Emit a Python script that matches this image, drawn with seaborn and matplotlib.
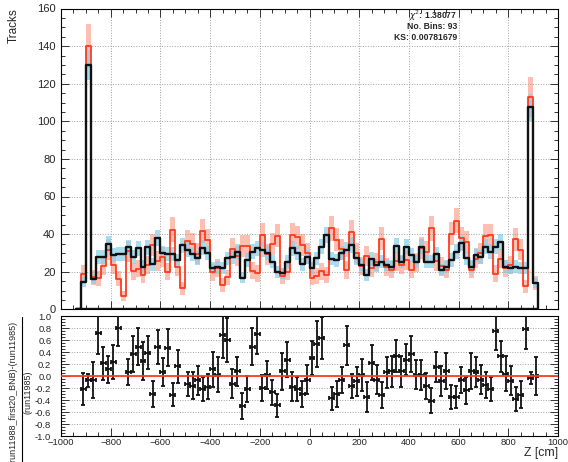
import numpy as np
import pandas as pd
import matplotlib
matplotlib.use("Agg")
import matplotlib.pyplot as plt
import seaborn as sns
from matplotlib.ticker import MultipleLocator, FormatStrFormatter
from matplotlib.lines import Line2D

# ---------------- data ----------------
z_low, z_high, z_width = -940, 920, 20
edges = np.arange(z_low, z_high + 1, z_width)
centers = edges[:-1] + z_width / 2

# run11988_first20_BNB (black)
tracks_11988 = [
    0, 14.7, 130, 16, 28, 28, 35, 29, 29.3, 29.4, 33, 27.7, 32.4, 22.7, 33, 24, 38,
    29.8, 29.4, 29.3, 26, 34, 31.6, 29.3, 27.5, 32.8, 30, 21.8, 22.3, 21.8, 27.1, 28,
    30.7, 16.8, 26.2, 30.7, 32.4, 31.6, 29.8, 25.4, 20, 19.1, 25.4, 32.4, 29.8, 24, 28,
    21.8, 27.1, 33.3, 39.5, 27, 26, 29.8, 31.6, 34.2, 27.1, 23.6, 18.3, 26.8, 23.6, 25.4,
    23.6, 22.7, 33.9, 25.4, 33.3, 28.9, 25.4, 33.3, 25.4, 25.4, 29.4, 20.9, 22.7, 26.2,
    30.7, 35.1, 27.1, 22.7, 28.9, 28, 33.3, 30.7, 33.3, 36, 22.7, 21.8, 22.7, 21.8, 21.8,
    107.4, 14.2]

# run11985 (red)
tracks_11985 = [
    0, 19, 140, 17, 16.4, 23.1, 31.6, 23.5, 16.3, 7.2, 30.8, 20.2, 21.7, 18.2, 23.7, 34.1,
    25.7, 27.9, 20, 42.4, 22.3, 11.2, 36.3, 34.9, 29.6, 41.5, 36.6, 19.6, 21.9, 13, 17,
    32.2, 28.4, 33.6, 33.6, 20.6, 19.1, 39.5, 29.2, 34.8, 39.2, 17.7, 20, 39.5, 38.2, 34.3,
    29.8, 16.8, 17.7, 20.3, 18, 43, 37, 32, 20.9, 41.2, 29.8, 23.1, 28.2, 22, 25.1, 37.4,
    22.3, 21, 25.5, 23.5, 26.2, 21.1, 24.9, 32.6, 30.6, 43, 25.6, 23, 21, 40.3, 47.2, 37.7,
    35.7, 21, 27, 29.8, 39.2, 39.3, 19, 27, 21.8, 23.7, 37.2, 31.6, 12.2, 113, 14.2]

# (run11988 - run11985) / run11985, nan = outside the frame
ratio = [
    np.nan, -0.22, -0.07, -0.06, 0.71, 0.21, 0.11, 0.23, 0.80, np.nan, 0.07, 0.37, 0.49,
    0.25, 0.39, -0.30, 0.48, 0.07, 0.47, -0.31, 0.16, np.nan, -0.13, -0.16, -0.07, -0.21,
    -0.18, 0.11, 0.02, 0.68, 0.60, -0.13, 0.08, -0.50, -0.22, 0.49, 0.70, -0.20, 0.02,
    -0.27, -0.49, 0.08, 0.27, -0.18, -0.22, -0.30, -0.06, 0.30, 0.53, 0.64, np.nan, -0.37,
    -0.30, -0.07, 0.51, -0.17, -0.09, 0.02, -0.35, 0.22, -0.06, -0.32, 0.06, 0.08, 0.33,
    0.08, 0.27, 0.37, 0.02, 0.02, -0.17, -0.41, 0.15, -0.09, 0.08, -0.35, -0.35, -0.07,
    -0.24, 0.08, 0.07, -0.06, -0.15, -0.22, 0.75, 0.33, 0.04, -0.08, -0.39, -0.31, 0.78,
    -0.04, 0.00]

ratio_err = [
    np.nan, 0.27, 0.11, 0.30, 0.34, 0.27, 0.23, 0.28, 0.30, np.nan, 0.22, 0.30, 0.31,
    0.31, 0.28, 0.21, 0.28, 0.23, 0.31, 0.19, 0.27, np.nan, 0.20, 0.23, 0.24, 0.20, 0.21,
    0.29, 0.29, 0.38, 0.36, 0.24, 0.24, 0.22, 0.22, 0.31, 0.33, 0.21, 0.23, 0.21, 0.19,
    0.31, 0.29, 0.24, 0.20, 0.21, 0.24, 0.29, 0.38, 0.35, np.nan, 0.19, 0.22, 0.22, 0.32,
    0.20, 0.24, 0.27, 0.25, 0.29, 0.24, 0.22, 0.26, 0.26, 0.27, 0.26, 0.26, 0.30, 0.24,
    0.25, 0.22, 0.21, 0.25, 0.25, 0.30, 0.20, 0.19, 0.22, 0.22, 0.30, 0.25, 0.24, 0.21,
    0.20, 0.31, 0.26, 0.29, 0.24, 0.20, 0.22, 0.33, 0.10, 0.32]

stats_lines = [r"$\chi^{2}$: 1.38077", "No. Bins: 93", "KS: 0.00781679"]

df = pd.DataFrame({'z': centers, 'black': tracks_11988, 'red': tracks_11985,
                   'ratio': ratio, 'ratio_err': ratio_err})
# band errors (scaled poisson, black sample is scaled)
df['black_err'] = 0.7 * np.sqrt(df['black'])
df['red_err'] = np.sqrt(df['red'])

# ---------------- style ----------------
sns.set_theme(style="white")
plt.rcParams['font.family'] = ['Liberation Sans', 'DejaVu Sans']
plt.rcParams['axes.linewidth'] = 0.8
plt.rcParams['axes.edgecolor'] = 'black'

RED = '#ff3b1c'
SALMON = '#fa8064'
BLUE = '#87ceeb'

fig = plt.figure(figsize=(5.68, 4.62), dpi=100)
W, H = 568, 462
ax1 = fig.add_axes([61 / W, (H - 309.3) / H, 497 / W, 300.8 / H])
ax2 = fig.add_axes([61 / W, 26 / H, 497 / W, 120 / H])

# ---------------- top panel ----------------
ax1.bar(df['z'], 2 * df['red_err'], bottom=df['red'] - df['red_err'], width=z_width,
        color=SALMON, alpha=0.5, linewidth=0, zorder=2)
ax1.bar(df['z'], 2 * df['black_err'], bottom=df['black'] - df['black_err'], width=z_width,
        color=BLUE, alpha=0.7, linewidth=0, zorder=3)
sns.histplot(data=df, x='z', weights='red', binwidth=z_width, binrange=(z_low, z_high),
             element="step", fill=True, facecolor="none", color=RED, linewidth=1.3,
             ax=ax1, zorder=4)
sns.histplot(data=df, x='z', weights='black', binwidth=z_width, binrange=(z_low, z_high),
             element="step", fill=True, facecolor="none", color='#111111', linewidth=1.7,
             ax=ax1, zorder=5)

ax1.set_xlim(-1000, 1000)
ax1.set_ylim(0, 160)
ax1.xaxis.set_major_locator(MultipleLocator(200))
ax1.xaxis.set_minor_locator(MultipleLocator(50))
ax1.yaxis.set_major_locator(MultipleLocator(20))
ax1.yaxis.set_minor_locator(MultipleLocator(5))
ax1.tick_params(which='both', direction='in', top=True, right=True, bottom=True, left=True,
                labelbottom=False, labelsize=8, pad=4, width=0.7, color='#333333')
ax1.tick_params(which='major', length=6)
ax1.tick_params(which='minor', length=3)
ax1.grid(True, which='major', ls=':', color='#a0a0a0', lw=0.7)
ax1.set_axisbelow(True)
ax1.set_xlabel('')
ax1.set_ylabel('Tracks', loc='top', fontsize=8.5)
ax1.yaxis.set_label_coords(-0.083, 1.0)

for i, line in enumerate(stats_lines):
    fig.text(457 / W, 1 - (15.5 + 11 * i) / H, line, ha='right', va='center',
             fontsize=6.2, fontweight='bold', zorder=10)

# ---------------- ratio panel ----------------
ax2.axhline(0, color=RED, lw=1.3, zorder=5)
ax2.errorbar(df['z'], df['ratio'], xerr=z_width / 2, yerr=df['ratio_err'], fmt='none',
             ecolor='#111111', elinewidth=1.3, capsize=1.7, capthick=1.3, zorder=4)
ax2.set_xlim(-1000, 1000)
ax2.set_ylim(-1, 1)
ax2.xaxis.set_major_locator(MultipleLocator(200))
ax2.xaxis.set_minor_locator(MultipleLocator(50))
ax2.yaxis.set_major_locator(MultipleLocator(0.2))
ax2.yaxis.set_minor_locator(MultipleLocator(0.05))
ax2.yaxis.set_major_formatter(FormatStrFormatter('%.1f'))
ax2.tick_params(which='both', direction='in', right=True, bottom=True, left=True,
                labelsize=6.8, width=0.7, color='#333333')
ax2.tick_params(axis='x', pad=1.5)
ax2.tick_params(axis='y', pad=7)
ax2.tick_params(which='major', length=6)
ax2.tick_params(which='minor', length=3)
ax2.yaxis.grid(True, which='major', ls=':', color='#a0a0a0', lw=0.7)
ax2.set_axisbelow(True)
ax2.set_ylabel('')
ax2.set_xlabel('Z [cm]', loc='right', fontsize=8.8)
ax2.xaxis.set_label_coords(1.0, -0.095)

# fraction style y title of the ratio
fig.text(13 / W, 1 - 392 / H, "(run11988_first20_BNB)-(run11985)", rotation=90,
         ha='center', va='center', fontsize=6.5)
fig.text(28 / W, 1 - 392 / H, "(run11985)", rotation=90,
         ha='center', va='center', fontsize=6.5)
fig.add_artist(Line2D([21.5 / W, 21.5 / W], [1 - 317 / H, 0], color='black', lw=0.8))

fig.savefig('out.png', dpi=100)
